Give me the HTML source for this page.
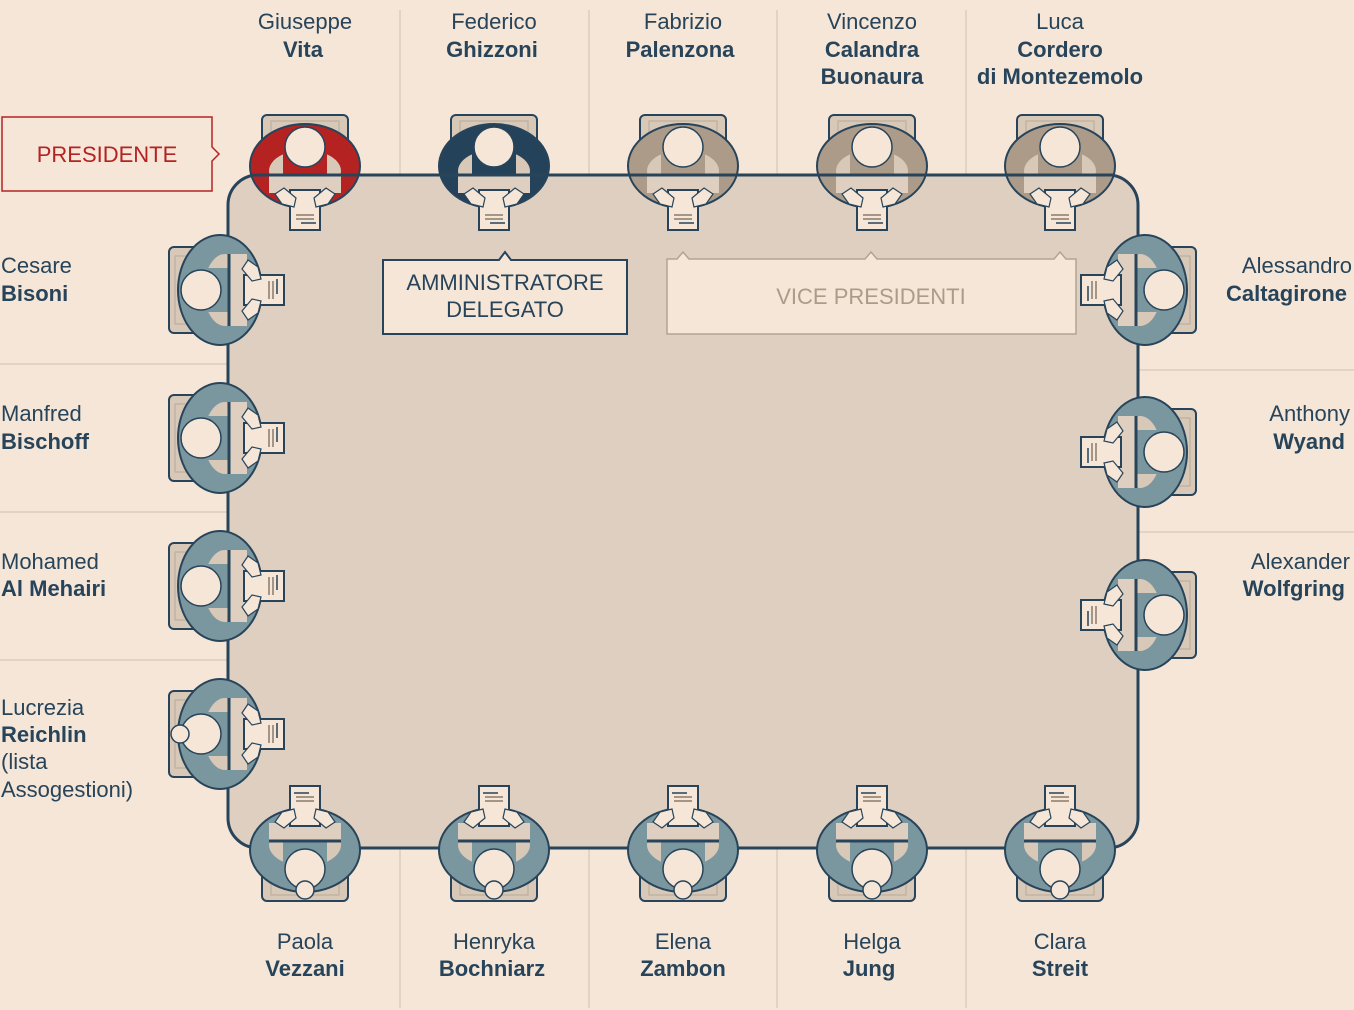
<!DOCTYPE html>
<html><head><meta charset="utf-8"><style>
html,body{margin:0;padding:0;background:#f5e6d7;}
svg{display:block;}
text{font-family:"Liberation Sans",sans-serif;fill:#27445a;font-size:22px;}
.b{font-weight:bold;}
</style></head><body>
<svg width="1354" height="1010" viewBox="0 0 1354 1010" xmlns="http://www.w3.org/2000/svg">
<defs>
<g id="hands">
  <rect x="-15" y="24" width="30" height="40" fill="#f5e6d7" stroke="#27445a" stroke-width="2"/>
  <line x1="-9" y1="49" x2="9" y2="49" stroke="#8a7a6a" stroke-width="1.5"/>
  <line x1="-9" y1="53" x2="9" y2="53" stroke="#8a7a6a" stroke-width="1.5"/>
  <line x1="-4" y1="57" x2="11" y2="57" stroke="#27445a" stroke-width="1.5"/>
  <path d="M-30 28 l9 -6 l12 10 l-2 9 l-12 -3 z" fill="#f5e6d7" stroke="#27445a" stroke-width="1.2"/>
  <path d="M30 28 l-9 -6 l-12 10 l2 9 l12 -3 z" fill="#f5e6d7" stroke="#27445a" stroke-width="1.2"/>
</g>
<g id="chair">
  <rect x="-43" y="-51" width="86" height="60" rx="5" fill="#d8c8b8" stroke="#27445a" stroke-width="2"/>
  <rect x="-34" y="-45" width="68" height="50" fill="none" stroke="#b8a898" stroke-width="1"/>
</g>
<g id="blue">
 <use href="#chair"/>
 <ellipse cx="0" cy="0" rx="55" ry="42" fill="#7a97a0" stroke="#27445a" stroke-width="2"/>
 <ellipse cx="0" cy="5" rx="36" ry="21" fill="#d8c8b8"/>
 <rect x="-36" y="9" width="72" height="18" fill="#dfcfc0"/>
 <rect x="-22" y="-20" width="44" height="29" fill="#7a97a0"/>
 <line x1="-36" y1="9" x2="36" y2="9" stroke="#27445a" stroke-width="3"/>
 <circle cx="0" cy="-19" r="20" fill="#f5e6d7" stroke="#27445a" stroke-width="1.5"/>
 <use href="#hands"/>
</g>
</defs>

<g stroke="#e3d3c3" stroke-width="2">
<line x1="400" y1="10" x2="400" y2="175"/><line x1="589" y1="10" x2="589" y2="175"/>
<line x1="777" y1="10" x2="777" y2="175"/><line x1="966" y1="10" x2="966" y2="175"/>
<line x1="400" y1="848" x2="400" y2="1008"/><line x1="589" y1="848" x2="589" y2="1008"/>
<line x1="777" y1="848" x2="777" y2="1008"/><line x1="966" y1="848" x2="966" y2="1008"/>
<line x1="0" y1="364" x2="228" y2="364"/><line x1="0" y1="512" x2="228" y2="512"/><line x1="0" y1="660" x2="228" y2="660"/>
<line x1="1138" y1="370" x2="1354" y2="370"/><line x1="1138" y1="532" x2="1354" y2="532"/>
</g>

<rect x="228" y="175" width="910" height="673" rx="30" fill="#dfcfc0" stroke="#27445a" stroke-width="3"/>

<g transform="translate(305,166)">
 <use href="#chair"/>
 <ellipse cx="0" cy="0" rx="55" ry="42" fill="#b52222" stroke="#27445a" stroke-width="2"/>
 <ellipse cx="0" cy="5" rx="36" ry="21" fill="#d8c8b8"/>
 <rect x="-36" y="9" width="72" height="18" fill="#dfcfc0"/>
 <rect x="-22" y="-20" width="44" height="29" fill="#b52222"/>
 <line x1="-55" y1="9" x2="55" y2="9" stroke="#27445a" stroke-width="3"/>
 <circle cx="0" cy="-19" r="20" fill="#f5e6d7" stroke="#27445a" stroke-width="1.5"/>
 <use href="#hands"/>
</g>
<g transform="translate(494,166)">
 <use href="#chair"/>
 <ellipse cx="0" cy="0" rx="55" ry="42" fill="#24435a" stroke="#27445a" stroke-width="2"/>
 <ellipse cx="0" cy="5" rx="36" ry="21" fill="#d8c8b8"/>
 <rect x="-36" y="9" width="72" height="18" fill="#dfcfc0"/>
 <rect x="-22" y="-20" width="44" height="29" fill="#24435a"/>
 <line x1="-55" y1="9" x2="55" y2="9" stroke="#27445a" stroke-width="3"/>
 <circle cx="0" cy="-19" r="20" fill="#f5e6d7" stroke="#27445a" stroke-width="1.5"/>
 <use href="#hands"/>
</g>
<g id="tan" transform="translate(683,166)">
 <use href="#chair"/>
 <ellipse cx="0" cy="0" rx="55" ry="42" fill="#ad9b8a" stroke="#27445a" stroke-width="2"/>
 <ellipse cx="0" cy="5" rx="36" ry="21" fill="#d8c8b8"/>
 <rect x="-36" y="9" width="72" height="18" fill="#dfcfc0"/>
 <rect x="-22" y="-20" width="44" height="29" fill="#ad9b8a"/>
 <line x1="-55" y1="9" x2="55" y2="9" stroke="#27445a" stroke-width="3"/>
 <circle cx="0" cy="-19" r="20" fill="#f5e6d7" stroke="#27445a" stroke-width="1.5"/>
 <use href="#hands"/>
</g>
<use href="#tan" transform="translate(189,0)"/>
<use href="#tan" transform="translate(377,0)"/>

<use href="#blue" transform="translate(220,290) rotate(-90)"/>
<use href="#blue" transform="translate(220,438) rotate(-90)"/>
<use href="#blue" transform="translate(220,586) rotate(-90)"/>
<use href="#blue" transform="translate(220,734) rotate(-90)"/>
<use href="#blue" transform="translate(1145,290) rotate(90)"/>
<use href="#blue" transform="translate(1145,452) rotate(90)"/>
<use href="#blue" transform="translate(1145,615) rotate(90)"/>
<use href="#blue" transform="translate(305,850) rotate(180)"/>
<use href="#blue" transform="translate(494,850) rotate(180)"/>
<use href="#blue" transform="translate(683,850) rotate(180)"/>
<use href="#blue" transform="translate(872,850) rotate(180)"/>
<use href="#blue" transform="translate(1060,850) rotate(180)"/>
<g fill="#f5e6d7" stroke="#27445a" stroke-width="1.5">
<circle cx="305" cy="890" r="9"/><circle cx="494" cy="890" r="9"/><circle cx="683" cy="890" r="9"/>
<circle cx="872" cy="890" r="9"/><circle cx="1060" cy="890" r="9"/><circle cx="180" cy="734" r="9"/>
</g>

<path d="M2 117 H212 V147 L219 154 L212 161 V191 H2 Z" fill="#f5e6d7" stroke="#b52222" stroke-width="1.5"/>
<text x="107" y="162" text-anchor="middle" style="fill:#b52222">PRESIDENTE</text>
<path d="M383 260 H499 L505 252 L511 260 H627 V334 H383 Z" fill="#f5e6d7" stroke="#27445a" stroke-width="2"/>
<text x="505" y="290" text-anchor="middle">AMMINISTRATORE</text>
<text x="505" y="317" text-anchor="middle">DELEGATO</text>
<path d="M667 259 H677 L683 252 L689 259 H865 L871 252 L877 259 H1054 L1060 252 L1066 259 H1076 V334 H667 Z" fill="#f5e6d7" stroke="#b4a393" stroke-width="1.5"/>
<text x="871" y="304" text-anchor="middle" style="fill:#ad9b8a">VICE PRESIDENTI</text>

<g text-anchor="middle">
<text x="305" y="29">Giuseppe</text><text class="b" x="303" y="57">Vita</text>
<text x="494" y="29">Federico</text><text class="b" x="492" y="57">Ghizzoni</text>
<text x="683" y="29">Fabrizio</text><text class="b" x="680" y="57">Palenzona</text>
<text x="872" y="29">Vincenzo</text><text class="b" x="872" y="57">Calandra</text><text class="b" x="872" y="84">Buonaura</text>
<text x="1060" y="29">Luca</text><text class="b" x="1060" y="57">Cordero</text><text class="b" x="1060" y="84">di Montezemolo</text>
<text x="305" y="949">Paola</text><text class="b" x="305" y="976">Vezzani</text>
<text x="494" y="949">Henryka</text><text class="b" x="492" y="976">Bochniarz</text>
<text x="683" y="949">Elena</text><text class="b" x="683" y="976">Zambon</text>
<text x="872" y="949">Helga</text><text class="b" x="869" y="976">Jung</text>
<text x="1060" y="949">Clara</text><text class="b" x="1060" y="976">Streit</text>
</g>
<text x="1" y="273">Cesare</text><text class="b" x="1" y="301">Bisoni</text>
<text x="1" y="421">Manfred</text><text class="b" x="1" y="449">Bischoff</text>
<text x="1" y="569">Mohamed</text><text class="b" x="1" y="596">Al Mehairi</text>
<text x="1" y="715">Lucrezia</text><text class="b" x="1" y="742">Reichlin</text>
<text x="1" y="769">(lista</text><text x="1" y="797">Assogestioni)</text>
<g text-anchor="end">
<text x="1352" y="273">Alessandro</text><text class="b" x="1347" y="301">Caltagirone</text>
<text x="1350" y="421">Anthony</text><text class="b" x="1345" y="449">Wyand</text>
<text x="1350" y="569">Alexander</text><text class="b" x="1345" y="596">Wolfgring</text>
</g>
</svg>
</body></html>
